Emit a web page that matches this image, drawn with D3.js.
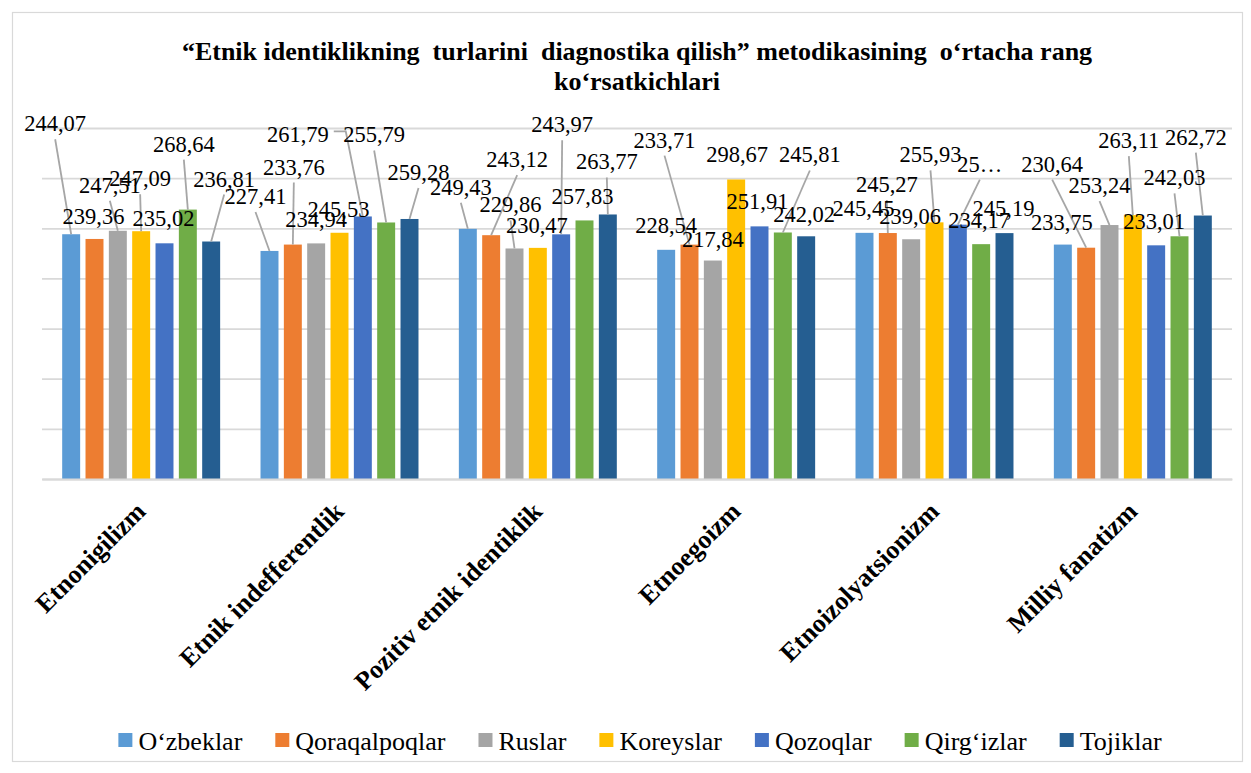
<!DOCTYPE html>
<html>
<head>
<meta charset="utf-8">
<script src="https://cdn.jsdelivr.net/npm/d3@7"></script>
<style>
  body { margin: 0; background: #fff; }
  .grid line { stroke: #d9d9d9; stroke-width: 1.8px; }
  .leader { stroke: #a6a6a6; stroke-width: 1.8px; fill: none; }
</style>
</head>
<body>
<div id="chart"></div>
<script>
// categories and series
const categories = ['Etnonigilizm', 'Etnik indefferentlik', 'Pozitiv etnik identiklik',
  'Etnoegoizm', 'Etnoizolyatsionizm', 'Milliy fanatizm']
const seriesNames = ['O\u2018zbeklar', 'Qoraqalpoqlar', 'Ruslar', 'Koreyslar', 'Qozoqlar', 'Qirg\u2018izlar', 'Tojiklar']
const colors = ['#5b9bd5', '#ed7d31', '#a5a5a5', '#ffc000', '#4472c4', '#70ad47', '#255e91']

// values per series, in category order
const uzbeklar = [244.07, 227.41, 249.43, 228.54, 245.45, 233.75]
const qoraqalpoqlar = [239.36, 233.76, 243.12, 233.71, 245.27, 230.64]
const ruslar = [247.51, 234.94, 229.86, 217.84, 239.06, 253.24]
const koreyslar = [247.09, 245.53, 230.47, 298.67, 255.93, 263.11]
const qozoqlar = [235.02, 261.79, 243.97, 251.91, 253.62, 233.01]
const qirgizlar = [268.64, 255.79, 257.83, 245.81, 234.17, 242.03]
const tojiklar = [236.81, 259.28, 263.77, 242.02, 245.19, 262.72]
const seriesValues = [uzbeklar, qoraqalpoqlar, ruslar, koreyslar, qozoqlar, qirgizlar, tojiklar]

const yTicks = [0, 50, 100, 150, 200, 250, 300, 350]

const titleLines = ['\u201CEtnik identiklikning  turlarini  diagnostika qilish\u201D metodikasining  o\u2018rtacha rang',
  'ko\u2018rsatkichlari']

// hand-dragged data label offsets (px from bar top centre), like the original workbook
const labelNudge = [
  [[-16, -103], [-1, -15], [-8, -38], [-1, -45], [-1, -17], [-4, -58], [13, -55]],
  [[-14, -47], [1, -70], [0, -16], [-1, -16], [-65, -74], [-12, -80], [9, -39]],
  [[-7, -34], [26, -68], [-4, -36], [-1, -15], [1, -102], [-2, -16], [-1, -45]],
  [[0, -17], [-25, -97], [0, -14], [1, -17], [-2, -17], [27, -70], [-2, -14]],
  [[-1, -17], [-1, -41], [-1, -15], [-4, -60], [22, -53], [-2, -16], [-1, -17]],
  [[-1, -15], [-34, -76], [-10, -32], [-4, -67], [-2, -16], [-5, -51], [-7, -71]]
]
// label that Excel cut short: [category, series]
const truncated = [[4, 4]]

const serif = '"Liberation Serif", "Times New Roman", Times, serif'
const width = 1251
const height = 773
const plot = { left: 42, right: 1232, top: 128, bottom: 479 }

const svg = d3.select('#chart').append('svg')
  .attr('width', width)
  .attr('height', height)
  .attr('font-family', serif)

svg.append('rect')
  .attr('x', 12.5).attr('y', 12.5)
  .attr('width', 1230).attr('height', 749)
  .attr('fill', '#fff')
  .attr('stroke', '#d9d9d9')
  .attr('stroke-width', 1.2)

// title
svg.append('g').selectAll('text')
  .data(titleLines)
  .join('text')
    .attr('x', 637)
    .attr('y', (d, i) => 60 + i * 30)
    .attr('text-anchor', 'middle')
    .style('font-family', serif)
    .style('font-size', '26px')
    .style('font-weight', 'bold')
    .style('white-space', 'pre')
    .text(d => d)

const x0 = d3.scaleBand()
  .domain(categories)
  .range([plot.left, plot.right])

const x1 = d3.scaleBand()
  .domain(seriesNames)
  .range([0, x0.bandwidth()])
  .paddingInner(0.23)
  .paddingOuter(0.865)

const y = d3.scaleLinear()
  .domain([0, 350])
  .range([plot.bottom, plot.top])

const color = d3.scaleOrdinal().domain(seriesNames).range(colors)

// gridlines
svg.append('g')
  .attr('class', 'grid')
  .attr('transform', `translate(${plot.left},0)`)
  .call(d3.axisLeft(y).tickValues(yTicks).tickSize(-(plot.right - plot.left)).tickFormat(''))
  .call(g => g.select('.domain').remove())

// flatten into one record per bar
const cells = []
categories.forEach((cat, ci) => {
  seriesNames.forEach((name, si) => {
    cells.push({ cat, ci, name, si, value: seriesValues[si][ci] })
  })
})

svg.append('g')
  .selectAll('rect')
  .data(cells)
  .join('rect')
    .attr('x', d => x0(d.cat) + x1(d.name))
    .attr('y', d => y(d.value))
    .attr('width', x1.bandwidth())
    .attr('height', d => y(0) - y(d.value))
    .attr('fill', d => color(d.name))

// category axis
svg.append('g')
  .attr('transform', `translate(0,${plot.bottom})`)
  .call(d3.axisBottom(x0).tickSize(0))
  .call(g => g.select('.domain').attr('stroke', '#d9d9d9').attr('stroke-width', 2))
  .call(g => g.selectAll('text')
    .attr('x', 0).attr('y', 0).attr('dy', 0)
    .attr('text-anchor', 'end')
    .attr('transform', 'translate(6,34) rotate(-45)')
    .style('font-family', serif)
    .style('font-size', '26px')
    .style('font-weight', 'bold')
    .attr('fill', '#000'))

// data labels with leader lines
const fmt = v => d3.format('.2f')(v).replace('.', ',')
const isTrunc = d => truncated.some(t => t[0] === d.ci && t[1] === d.si)
cells.forEach(d => {
  const n = labelNudge[d.ci][d.si]
  d.bx = x0(d.cat) + x1(d.name) + x1.bandwidth() / 2
  d.by = y(d.value)
  d.lx = d.bx + n[0]
  d.ly = d.by + n[1]
  d.text = isTrunc(d) ? fmt(d.value).slice(0, 2) + '\u2026' : fmt(d.value)
})

const leaderG = svg.append('g')
const labels = svg.append('g')
  .selectAll('text')
  .data(cells)
  .join('text')
    .attr('x', d => d.lx)
    .attr('y', d => d.ly)
    .attr('text-anchor', 'middle')
    .style('font-family', serif)
    .style('font-size', '22.5px')
    .text(d => d.text)

labels.each(function (d) { d.w = this.getComputedTextLength() })

leaderG.selectAll('path')
  .data(cells.filter(d => d.ly - d.by < -25))
  .join('path')
    .attr('class', 'leader')
    .attr('d', d => {
      if (Math.abs(d.lx - d.bx) > 45) {
        const side = d.bx > d.lx ? 1 : -1
        const sx = d.lx + side * (d.w / 2 + 5)
        const sy = d.ly - 11
        return `M${sx},${sy}H${sx + side * 12}L${d.bx},${d.by}`
      }
      return `M${d.lx},${d.ly + 8}L${d.bx},${d.by}`
    })

// legend
const legend = svg.append('g')
const items = legend.selectAll('g')
  .data(seriesNames)
  .join('g')
items.append('rect')
  .attr('y', 733)
  .attr('width', 14).attr('height', 14)
  .attr('fill', d => color(d))
items.append('text')
  .attr('x', 20)
  .attr('y', 750)
  .style('font-family', serif)
  .style('font-size', '26px')
  .text(d => d)

let offset = 0
const starts = []
items.each(function () {
  const w = 20 + d3.select(this).select('text').node().getComputedTextLength()
  starts.push(offset)
  offset += w + 33
})
const total = offset - 33
const left = 640 - total / 2
items.attr('transform', (d, i) => `translate(${left + starts[i]},0)`)
</script>
</body>
</html>
